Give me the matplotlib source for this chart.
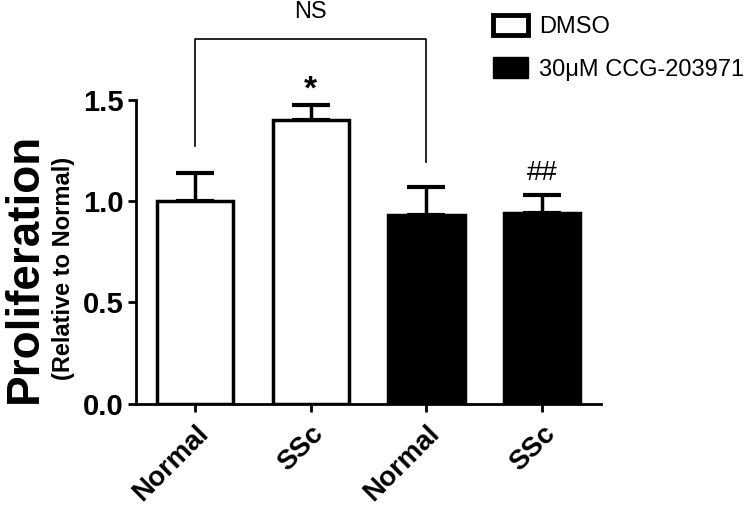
import matplotlib
matplotlib.use('Agg')
import matplotlib.pyplot as plt
from matplotlib.patches import Patch
import numpy as np

plt.rcParams['font.family'] = ['Liberation Sans', 'DejaVu Sans']

# data
groups = ['Normal', 'SSc', 'Normal', 'SSc']
means = [1.00, 1.40, 0.93, 0.94]
sem = [0.14, 0.075, 0.14, 0.09]
treatment = ['DMSO', 'DMSO', '30\u03bcM CCG-203971', '30\u03bcM CCG-203971']
marks = ['', '*', '', '##']

fig = plt.figure(figsize=(7.51, 5.13), dpi=100)
ax = fig.add_axes([0.1811, 0.2125, 0.6192, 0.5935])

x = np.arange(len(groups))
face = ['white' if t == 'DMSO' else 'black' for t in treatment]

ax.errorbar(x, means, yerr=[np.zeros(len(sem)), sem], fmt='none',
            ecolor='black', elinewidth=2.5, capsize=13.5, capthick=3, zorder=1)
ax.bar(x, means, width=0.66, color=face, edgecolor='black', linewidth=2.5, zorder=2)

# significance marks
for xi, m, s, lab in zip(x, means, sem, marks):
    if lab == '*':
        ax.text(xi, m + s + 0.07, lab, ha='center', va='center', fontsize=24,
                fontweight='bold', clip_on=False)
    elif lab:
        ax.text(xi, m + s + 0.11, lab, ha='center', va='center', fontsize=20, clip_on=False)

# NS bracket between the two Normal groups
ax.plot([0, 0, 2, 2], [1.27, 1.80, 1.80, 1.19], color='black', lw=1.2, clip_on=False)
ax.text(1, 1.93, 'NS', ha='center', va='center', fontsize=17)

ax.set_xlim(-0.51, 3.51)
ax.set_ylim(0, 1.5)
ax.set_yticks([0, 0.5, 1.0, 1.5])
ax.set_yticklabels(['0.0', '0.5', '1.0', '1.5'], fontsize=21, fontweight='bold')
ax.set_xticks(x)
ax.set_xticklabels(groups, rotation=45, ha='right', rotation_mode='anchor',
                   fontsize=20, fontweight='bold')
ax.tick_params(axis='both', width=2, length=6, pad=3)
ax.tick_params(axis='x', pad=6)
for side in ['top', 'right']:
    ax.spines[side].set_visible(False)
for side in ['left', 'bottom']:
    ax.spines[side].set_linewidth(2)

fig.text(0.033, 0.477, 'Proliferation', rotation=90, ha='center', va='center',
         fontsize=33, fontweight='bold')
fig.text(0.084, 0.477, '(Relative to Normal)', rotation=90, ha='center', va='center',
         fontsize=17, fontweight='bold')

handles = [Patch(facecolor='white', edgecolor='black', linewidth=3.5),
           Patch(facecolor='black', edgecolor='black')]
fig.legend(handles, ['DMSO', '30\u03bcM CCG-203971'], loc='upper left',
           bbox_to_anchor=(0.628, 1.012), frameon=False, fontsize=17,
           handlelength=1.5, handleheight=0.95, handletextpad=0.45, labelspacing=0.8)

fig.savefig('out.png', dpi=100)
